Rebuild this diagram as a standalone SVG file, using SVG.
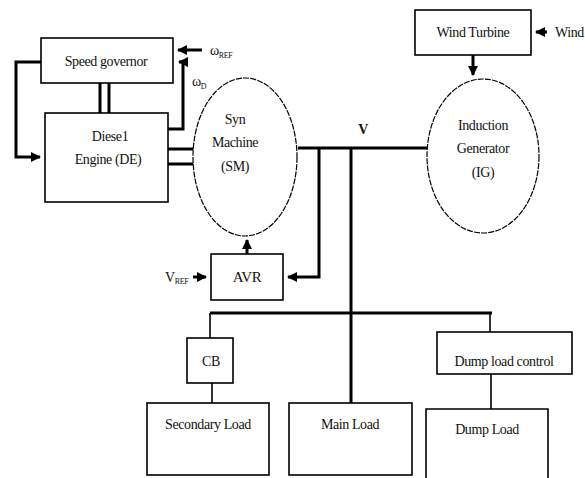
<svg xmlns="http://www.w3.org/2000/svg" width="585" height="478" viewBox="0 0 585 478">
<defs>
<marker id="ah" viewBox="0 0 10 10" refX="9" refY="5" markerWidth="3.4" markerHeight="3.4" orient="auto" markerUnits="strokeWidth">
<path d="M0,0 L10,5 L0,10 z" fill="#000"/>
</marker>
</defs>
<style>
.box{fill:#fff;stroke:#000;stroke-width:1.6}
.ell{fill:#fff;stroke:#000;stroke-width:1.2;stroke-dasharray:6 1.2}
.t{font-family:"Liberation Serif",serif;font-size:14px;fill:#111;text-anchor:middle;letter-spacing:-0.4px}
.w{fill:none;stroke:#000;stroke-width:3}
.n{fill:none;stroke:#000;stroke-width:1.6}
</style>
<rect width="585" height="478" fill="#fff"/>
<g id="connectors">
<path class="w" d="M41,62 H16 V157 H40" marker-end="url(#ah)"/>
<path class="w" d="M202,50 H178" marker-end="url(#ah)"/>
<path class="w" d="M168,129 H183 V62 H179" marker-end="url(#ah)"/>
<path class="w" d="M100,83 V113 M109,83 V113"/>
<path class="w" d="M168,149 H194 M168,164 H194"/>
<path class="w" d="M298,148 H427"/>
<path class="w" d="M319,148 V277 H288" marker-end="url(#ah)"/>
<path class="w" d="M351,148 V403"/>
<path class="w" d="M247,254 V240" marker-end="url(#ah)"/>
<path class="w" d="M193,277 H206" marker-end="url(#ah)"/>
<path class="w" d="M473,55 V75" marker-end="url(#ah)"/>
<path class="w" d="M547,32 H536" marker-end="url(#ah)"/>
<path class="w" d="M210,313 H492"/>
<path class="n" d="M210,313 V338 M212,383 V403 M490,313 V332 M491,374 V409"/>
</g>
<g id="speed-governor"><rect class="box" x="41" y="38" width="132" height="45"/><text class="t" x="106" y="66">Speed governor</text></g>
<g id="diesel-engine"><rect class="box" x="45" y="113" width="123" height="89"/><text class="t" x="110" y="141">Diese1</text><text class="t" x="108" y="164">Engine (DE)</text></g>
<g id="syn-machine"><ellipse class="ell" cx="245" cy="157" rx="52" ry="79"/><text class="t" x="235" y="124">Syn</text><text class="t" x="235" y="147">Machine</text><text class="t" x="235" y="171">(SM)</text></g>
<g id="wind-turbine"><rect class="box" x="415" y="10" width="116" height="45"/><text class="t" x="473" y="37">Wind Turbine</text></g>
<g id="induction-generator"><ellipse class="ell" cx="483" cy="156" rx="56" ry="77"/><text class="t" x="483" y="130">Induction</text><text class="t" x="483" y="153">Generator</text><text class="t" x="483" y="177">(IG)</text></g>
<g id="avr"><rect class="box" x="211" y="254" width="72" height="46"/><text class="t" x="247" y="282" style="font-size:15px">AVR</text></g>
<g id="cb"><rect class="box" x="187" y="338" width="46" height="45"/><text class="t" x="211" y="366">CB</text></g>
<g id="secondary-load"><rect class="box" x="147" y="403" width="122" height="72"/><text class="t" x="208" y="429">Secondary Load</text></g>
<g id="main-load"><rect class="box" x="289" y="403" width="123" height="72"/><text class="t" x="350" y="429">Main Load</text></g>
<g id="dump-load-control"><rect class="box" x="437" y="332" width="135" height="42"/><text class="t" x="504" y="366">Dump load control</text></g>
<g id="dump-load"><path class="box" d="M426,480 V409 H548 V480"/><text class="t" x="487" y="434">Dump Load</text></g>
<g id="labels">
<text class="t" x="210" y="55" style="text-anchor:start">ω<tspan font-size="8" dy="3">REF</tspan></text>
<text class="t" x="192" y="86" style="text-anchor:start">ω<tspan font-size="8" dy="3">D</tspan></text>
<text class="t" x="165" y="282" style="text-anchor:start">V<tspan font-size="8" dy="2">REF</tspan></text>
<text class="t" x="363" y="134" style="font-weight:bold">V</text>
<text class="t" x="555" y="37" style="text-anchor:start">Wind</text>
</g>
</svg>
